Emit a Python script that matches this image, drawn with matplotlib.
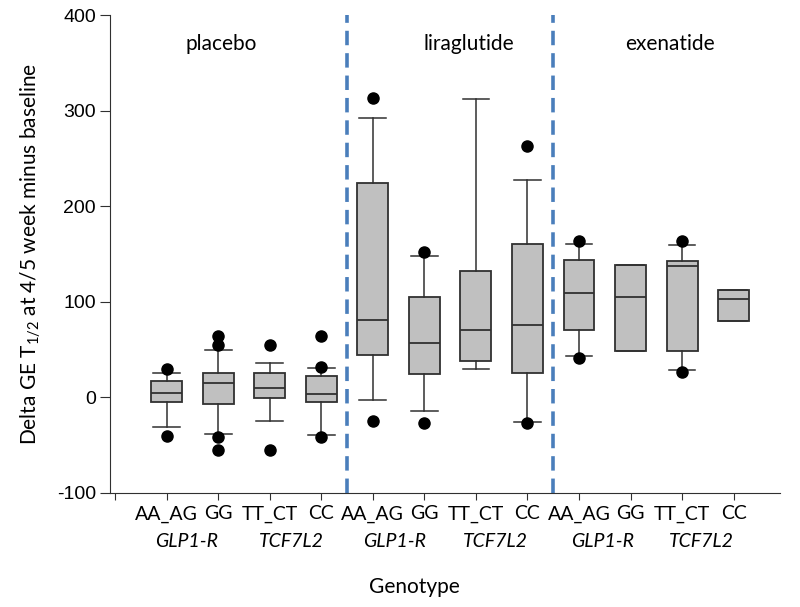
import matplotlib
matplotlib.use("Agg")
import matplotlib.pyplot as plt

plt.rcParams['font.family'] = ['Lato', 'DejaVu Sans']
plt.rcParams['mathtext.fontset'] = 'custom'
plt.rcParams['mathtext.rm'] = 'Lato'
plt.rcParams['mathtext.it'] = 'Lato:italic'

groups = ["placebo", "liraglutide", "exenatide"]
genotypes = ["AA_AG", "GG", "TT_CT", "CC"]
genes = ["GLP1-R", "TCF7L2"]

# per box: placebo x4, liraglutide x4, exenatide x4
med    = [5, 15, 10, 4,    81, 57, 70, 76,    109, 105, 137, 103]
q1     = [-5, -7, -1, -5,  44, 24, 38, 25,    71, 49, 48, 80]
q3     = [17, 25, 25, 22,  224, 105, 132, 161, 144, 139, 143, 112]
whislo = [-31, -38, -25, -39, -3, -14, 30, -26, 43, 49, 29, 80]
whishi = [26, 50, 36, 31,  292, 148, 312, 227, 161, 139, 159, 112]
fliers = [[30, -40], [64, 55, -41, -55], [55, -55], [64, 32, -41],
          [313, -25], [152, -27], [], [263, -27],
          [164, 41], [], [164, 27], []]

stats = []
for i in range(12):
    stats.append(dict(med=med[i], q1=q1[i], q3=q3[i], whislo=whislo[i],
                      whishi=whishi[i], fliers=fliers[i]))

fig = plt.figure(figsize=(8, 6.07), dpi=100)
ax = fig.add_axes([0.1375, 0.188, 0.8375, 0.787])

positions = list(range(1, 13))
edge = '#303030'
ax.bxp(stats, positions=positions, widths=0.6, capwidths=0.52, patch_artist=True,
       boxprops=dict(facecolor='#c0c0c0', edgecolor=edge, linewidth=1.3),
       medianprops=dict(color=edge, linewidth=1.3),
       whiskerprops=dict(color=edge, linewidth=1.1),
       capprops=dict(color=edge, linewidth=1.1),
       flierprops=dict(marker='o', markerfacecolor='black', markeredgecolor='black',
                       markersize=8, linestyle='none'))

for xv in [4.5, 8.5]:
    ax.axvline(xv, color='#4a7ebb', linewidth=2.6, linestyle=(0, (4, 2.2)), zorder=0)

ax.set_xlim(-0.1, 12.9)
ax.set_ylim(-100, 400)
ax.set_yticks([-100, 0, 100, 200, 300, 400])
ax.set_yticklabels(["-100", "0", "100", "200", "300", "400"],
                   fontfamily='Liberation Sans', fontsize=14)
ax.set_xticks(list(range(0, 13)))
ax.set_xticklabels([""] + genotypes * 3, fontsize=14)
ax.tick_params(axis='x', length=5, pad=4, color='#303030')
ax.tick_params(axis='y', length=7, pad=3, color='#303030')
for s in ['top', 'right']:
    ax.spines[s].set_visible(False)
for s in ['left', 'bottom']:
    ax.spines[s].set_color('#303030')

gene_pos = [1.38, 3.42, 5.42, 7.38, 9.45, 11.38]
for k, gp in enumerate(gene_pos):
    ax.text(gp, -0.102, genes[k % 2], transform=ax.get_xaxis_transform(),
            ha='center', va='center', fontsize=14, style='italic')

title_pos = [2.06, 6.86, 10.76]
for g, tp in zip(groups, title_pos):
    ax.text(tp, 370, g, ha='center', va='center', fontsize=15)

ax.set_ylabel(r"Delta GE T$_{\mathregular{1/2}}$ at 4/5 week minus baseline", fontsize=15, labelpad=10)
fig.text(0.5175, 0.016, "Genotype", ha='center', va='bottom', fontsize=15)

fig.savefig("out.png", dpi=100)
